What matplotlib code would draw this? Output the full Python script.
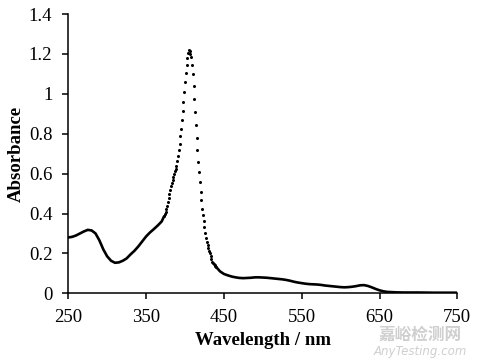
import matplotlib
matplotlib.use("Agg")
import matplotlib.pyplot as plt
from matplotlib.ticker import FuncFormatter
import numpy as np

# UV-vis spectrum
# smooth part below the Soret band (solid-looking line)
wl_left = [250, 255, 260, 265, 270, 275, 280, 285, 290, 295, 300, 305, 310, 315,
           320, 325, 330, 335, 340, 345, 350, 355, 360, 365, 370, 373]
abs_left = [0.28, 0.283, 0.29, 0.30, 0.31, 0.318, 0.315, 0.30, 0.265, 0.22, 0.185,
            0.163, 0.153, 0.155, 0.163, 0.175, 0.195, 0.213, 0.235, 0.26, 0.285,
            0.305, 0.322, 0.34, 0.36, 0.385]

# Soret band, 1 nm steps (shows as separate dots)
wl_peak = list(range(373, 441))
abs_peak = [0.385, 0.398, 0.41, 0.425, 0.44, 0.458, 0.478, 0.50, 0.52, 0.54,
            0.555, 0.57, 0.585, 0.60, 0.613, 0.625, 0.637, 0.663, 0.687, 0.717,
            0.75, 0.787, 0.825, 0.87, 0.913, 0.96, 1.008, 1.058, 1.103, 1.143,
            1.18, 1.205, 1.22, 1.215, 1.20, 1.183, 1.145, 1.097, 1.04, 0.975,
            0.91, 0.845, 0.78, 0.717, 0.658, 0.61, 0.56, 0.51, 0.47, 0.425,
            0.39, 0.36, 0.33, 0.30, 0.275, 0.255, 0.24, 0.225, 0.21, 0.20,
            0.185, 0.17, 0.158, 0.15, 0.145, 0.14, 0.136, 0.132]

# Q-band tail
wl_right = [440, 445, 450, 455, 460, 465, 470, 475, 480, 485, 490, 495, 500, 505,
            510, 515, 520, 525, 530, 535, 540, 545, 550, 555, 560, 565, 570, 575,
            580, 585, 590, 595, 600, 605, 610, 615, 620, 625, 630, 635, 640, 645,
            650, 655, 660, 670, 680, 700, 720, 750]
abs_right = [0.132, 0.11, 0.097, 0.09, 0.084, 0.08, 0.077, 0.076, 0.077, 0.078,
             0.08, 0.08, 0.079, 0.078, 0.076, 0.074, 0.072, 0.07, 0.067, 0.063,
             0.058, 0.054, 0.051, 0.048, 0.046, 0.045, 0.044, 0.042, 0.039, 0.037,
             0.035, 0.033, 0.031, 0.03, 0.031, 0.033, 0.036, 0.04, 0.041, 0.037,
             0.03, 0.022, 0.015, 0.01, 0.007, 0.005, 0.004, 0.004, 0.003, 0.003]

x_ticks = [250, 350, 450, 550, 650, 750]
y_ticks = [0, 0.2, 0.4, 0.6, 0.8, 1, 1.2, 1.4]

plt.rcParams['font.family'] = ['Liberation Serif', 'DejaVu Serif']

fig = plt.figure(figsize=(5.0, 3.59), dpi=100)
ax = fig.add_axes([0.1366, 0.183, 0.778, 0.778])

ax.plot(wl_left, abs_left, color='black', lw=1.9, solid_capstyle='round')
ax.plot(wl_peak, abs_peak, 'o', color='black', ms=2.2, mew=0)
ax.plot(wl_right, abs_right, color='black', lw=1.9, solid_capstyle='round')

ax.set_xlim(250, 750)
ax.set_ylim(0, 1.4)
ax.set_xticks(x_ticks)
ax.set_yticks(y_ticks)
ax.yaxis.set_major_formatter(FuncFormatter(lambda v, p: f'{v:g}'))

for s in ['top', 'right']:
    ax.spines[s].set_visible(False)
for s in ['left', 'bottom']:
    ax.spines[s].set_linewidth(1.1)
ax.tick_params(direction='out', length=4.5, width=1.1, labelsize=13.5)
ax.tick_params(axis='x', pad=7)
ax.tick_params(axis='y', pad=7)

ax.set_xlabel('Wavelength / nm', fontsize=13.5, fontweight='bold', labelpad=4)
ax.set_ylabel('Absorbance', fontsize=13.5, fontweight='bold', labelpad=3)

# watermark in the corner, kept just below the tick labels
fig.text(0.84, 0.066, '嘉峪检测网', fontsize=12, fontweight='bold',
         family=['Noto Sans CJK SC', 'DejaVu Sans'], color='#cfcfcf',
         ha='center', va='center')
fig.text(0.84, 0.02, 'AnyTesting.com', fontsize=8.5, style='italic',
         family=['DejaVu Sans'], color='#cfcfcf', ha='center', va='center')

fig.savefig('out.png', dpi=100)
